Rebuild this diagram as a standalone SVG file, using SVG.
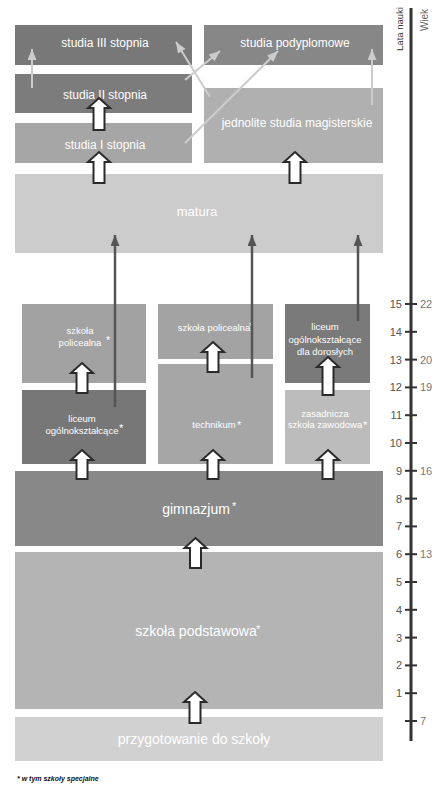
<svg xmlns="http://www.w3.org/2000/svg" width="443" height="802" viewBox="0 0 443 802">
<style>
  .lbl{font-family:"Liberation Sans",Arial,sans-serif;fill:#fff;text-anchor:middle}
  .l12{font-size:12px}
  .l13{font-size:13px}
  .l14{font-size:14px}
  .l9{font-size:9.5px}
  .ast{font-family:"Liberation Sans",Arial,sans-serif;fill:#fff;font-size:11px}
  .blk{fill:#fff;stroke:#2a2a2a;stroke-width:2;stroke-linejoin:miter}
  .lt{stroke:#cccccc;stroke-width:2;fill:none}
  .dk{stroke:#555;stroke-width:2.5;fill:none}
  .tick{stroke:#333;stroke-width:2}
  .num{font-family:"Liberation Sans",Arial,sans-serif;font-size:11px;fill:#555;text-anchor:end}
  .age{font-family:"Liberation Sans",Arial,sans-serif;font-size:11px;fill:#777}
</style>
<defs>
  <marker id="mLt" markerUnits="userSpaceOnUse" markerWidth="12" markerHeight="10" refX="11" refY="4.5" orient="auto">
    <path d="M0,0 L11,4.5 L0,9 Z" fill="#cccccc"/>
  </marker>
  <marker id="mDk" markerUnits="userSpaceOnUse" markerWidth="12" markerHeight="10" refX="11" refY="4.5" orient="auto">
    <path d="M0,0 L11,4.5 L0,9 Z" fill="#555"/>
  </marker>
</defs>
<rect width="443" height="802" fill="#fff"/>

<g id="studia3"><rect x="15" y="25" width="177" height="40" fill="#787878"/><text class="lbl l12" x="105" y="47">studia III stopnia</text></g>
<g id="studia2"><rect x="15" y="74" width="177" height="39" fill="#7c7c7c"/><text class="lbl l12" x="105" y="99">studia II stopnia</text></g>
<g id="studia1"><rect x="15" y="123" width="177" height="40" fill="#a6a6a6"/><text class="lbl l12" x="105" y="149">studia I stopnia</text></g>
<g id="podyplomowe"><rect x="204" y="25" width="179" height="40" fill="#878787"/><text class="lbl l12" x="295" y="47">studia podyplomowe</text></g>
<g id="jednolite"><rect x="204" y="88" width="179" height="75" fill="#b0b0b0"/><text class="lbl l12" x="297" y="127">jednolite studia magisterskie</text></g>
<g id="matura"><rect x="15" y="174" width="368" height="79" fill="#cccccc"/><text class="lbl l13" x="197" y="216">matura</text></g>

<g id="policealna1"><rect x="22" y="304" width="124" height="79" fill="#a2a2a2"/><text class="lbl l9" x="80"><tspan x="80" y="334">szkoła</tspan><tspan x="80" y="346">policealna</tspan></text><text class="ast" x="106" y="344">*</text></g>
<g id="liceum"><rect x="22" y="390" width="124" height="74" fill="#777777"/><text class="lbl l9" x="82"><tspan x="82" y="422">liceum</tspan><tspan x="82" y="434">ogólnokształcące</tspan></text><text class="ast" x="119" y="432">*</text></g>
<g id="policealna2"><rect x="158" y="304" width="115" height="55" fill="#a3a3a3"/><text class="lbl l9" x="214" y="331">szkoła policealna</text><text class="ast" x="249" y="330">*</text></g>
<g id="technikum"><rect x="158" y="364" width="115" height="100" fill="#a6a6a6"/><text class="lbl l9" x="214" y="428">technikum</text><text class="ast" x="237" y="429">*</text></g>
<g id="dorosli"><rect x="285" y="304" width="85" height="79" fill="#7a7a7a"/><text class="lbl l9" x="325"><tspan x="325" y="330">liceum</tspan><tspan x="325" y="343">ogólnokształcące</tspan><tspan x="325" y="355">dla dorosłych</tspan></text></g>
<g id="zasadnicza"><rect x="285" y="390" width="85" height="74" fill="#bcbcbc"/><text class="lbl l9" x="325"><tspan x="325" y="417">zasadnicza</tspan><tspan x="325" y="428">szkoła zawodowa</tspan></text><text class="ast" x="363" y="429">*</text></g>

<g id="gimnazjum"><rect x="15" y="471" width="368" height="75" fill="#888888"/><text class="lbl l14" x="196" y="514">gimnazjum</text><text class="ast" x="232" y="510">*</text></g>
<g id="podstawowa"><rect x="15" y="552" width="368" height="157" fill="#b4b4b4"/><text class="lbl l14" x="196" y="636">szkoła podstawowa</text><text class="ast" x="256" y="633">*</text></g>
<g id="przygotowanie"><rect x="15" y="717" width="368" height="44" fill="#d1d1d1"/><text class="lbl l14" x="194" y="744">przygotowanie do szkoły</text></g>

<g id="connectors">
  <line class="lt" x1="32" y1="88" x2="32" y2="49" marker-end="url(#mLt)"/>
  <line class="lt" x1="372" y1="105" x2="372" y2="49" marker-end="url(#mLt)"/>
  <line class="lt" x1="210" y1="97" x2="176" y2="42" marker-end="url(#mLt)"/>
  <line class="lt" x1="185" y1="80" x2="220" y2="51" marker-end="url(#mLt)"/>
  <line class="lt" x1="185" y1="143" x2="278" y2="51" marker-end="url(#mLt)"/>

  <line class="dk" x1="115" y1="407" x2="115" y2="235" marker-end="url(#mDk)"/>
  <line class="dk" x1="252" y1="378" x2="252" y2="235" marker-end="url(#mDk)"/>
  <line class="dk" x1="358" y1="321" x2="358" y2="235" marker-end="url(#mDk)"/>

  <path class="blk" d="M99,98 L110,108 L104.5,108 L104.5,130 L93.5,130 L93.5,108 L88,108 Z"/>
  <path class="blk" d="M99,152 L110,162 L104.5,162 L104.5,183 L93.5,183 L93.5,162 L88,162 Z"/>
  <path class="blk" d="M295,152 L306,162 L300.5,162 L300.5,183 L289.5,183 L289.5,162 L284,162 Z"/>
  <path class="blk" d="M82,363 L93,373 L87.5,373 L87.5,393 L76.5,393 L76.5,373 L71,373 Z"/>
  <path class="blk" d="M213,342 L224,352 L218.5,352 L218.5,372 L207.5,372 L207.5,352 L202,352 Z"/>
  <path class="blk" d="M328,357 L339,367 L333.5,367 L333.5,395 L322.5,395 L322.5,367 L317,367 Z"/>
  <path class="blk" d="M82,450 L93,460 L87.5,460 L87.5,479 L76.5,479 L76.5,460 L71,460 Z"/>
  <path class="blk" d="M213,450 L224,460 L218.5,460 L218.5,479 L207.5,479 L207.5,460 L202,460 Z"/>
  <path class="blk" d="M328,450 L339,460 L333.5,460 L333.5,479 L322.5,479 L322.5,460 L317,460 Z"/>
  <path class="blk" d="M195.5,538 L206.5,548 L201,548 L201,568 L190,568 L190,548 L184.5,548 Z"/>
  <path class="blk" d="M195,692 L206,702 L200.5,702 L200.5,723 L189.5,723 L189.5,702 L184,702 Z"/>
</g>

<g id="axis">
  <line x1="411" y1="8" x2="411" y2="741" stroke="#333" stroke-width="3"/>
  <text font-family="Liberation Sans, Arial, sans-serif" font-size="9.5" fill="#333" text-anchor="middle" transform="translate(403,29) rotate(-90)">Lata nauki</text>
  <text font-family="Liberation Sans, Arial, sans-serif" font-size="10" fill="#666" text-anchor="middle" transform="translate(428,20) rotate(-90)">Wiek</text>
  <g>
    <line class="tick" x1="405" y1="721" x2="417" y2="721"/>
    <line class="tick" x1="405" y1="693.2" x2="417" y2="693.2"/>
    <line class="tick" x1="405" y1="665.4" x2="417" y2="665.4"/>
    <line class="tick" x1="405" y1="637.6" x2="417" y2="637.6"/>
    <line class="tick" x1="405" y1="609.8" x2="417" y2="609.8"/>
    <line class="tick" x1="405" y1="582" x2="417" y2="582"/>
    <line class="tick" x1="405" y1="554.2" x2="417" y2="554.2"/>
    <line class="tick" x1="405" y1="526.4" x2="417" y2="526.4"/>
    <line class="tick" x1="405" y1="498.6" x2="417" y2="498.6"/>
    <line class="tick" x1="405" y1="470.8" x2="417" y2="470.8"/>
    <line class="tick" x1="405" y1="443" x2="417" y2="443"/>
    <line class="tick" x1="405" y1="415.2" x2="417" y2="415.2"/>
    <line class="tick" x1="405" y1="387.4" x2="417" y2="387.4"/>
    <line class="tick" x1="405" y1="359.6" x2="417" y2="359.6"/>
    <line class="tick" x1="405" y1="331.8" x2="417" y2="331.8"/>
    <line class="tick" x1="405" y1="304" x2="417" y2="304"/>
  </g>
  <text class="num" x="402" y="697.2">1</text>
  <text class="num" x="402" y="669.4">2</text>
  <text class="num" x="402" y="641.6">3</text>
  <text class="num" x="402" y="613.8">4</text>
  <text class="num" x="402" y="586">5</text>
  <text class="num" x="402" y="558.2">6</text>
  <text class="num" x="402" y="530.4">7</text>
  <text class="num" x="402" y="502.6">8</text>
  <text class="num" x="402" y="474.8">9</text>
  <text class="num" x="402" y="447">10</text>
  <text class="num" x="402" y="419.2">11</text>
  <text class="num" x="402" y="391.4">12</text>
  <text class="num" x="402" y="363.6">13</text>
  <text class="num" x="402" y="335.8">14</text>
  <text class="num" x="402" y="308">15</text>
  <text class="age" x="420" y="725">7</text>
  <text class="age" x="420" y="558.2">13</text>
  <text class="age" x="420" y="474.8">16</text>
  <text class="age" x="420" y="391.4">19</text>
  <text class="age" x="420" y="363.6">20</text>
  <text class="age" x="420" y="308">22</text>
</g>

<text x="17" y="781" font-family="Liberation Sans, Arial, sans-serif" font-size="7" font-weight="bold" font-style="italic" fill="#111">* w tym szkoły specjalne</text>
</svg>
